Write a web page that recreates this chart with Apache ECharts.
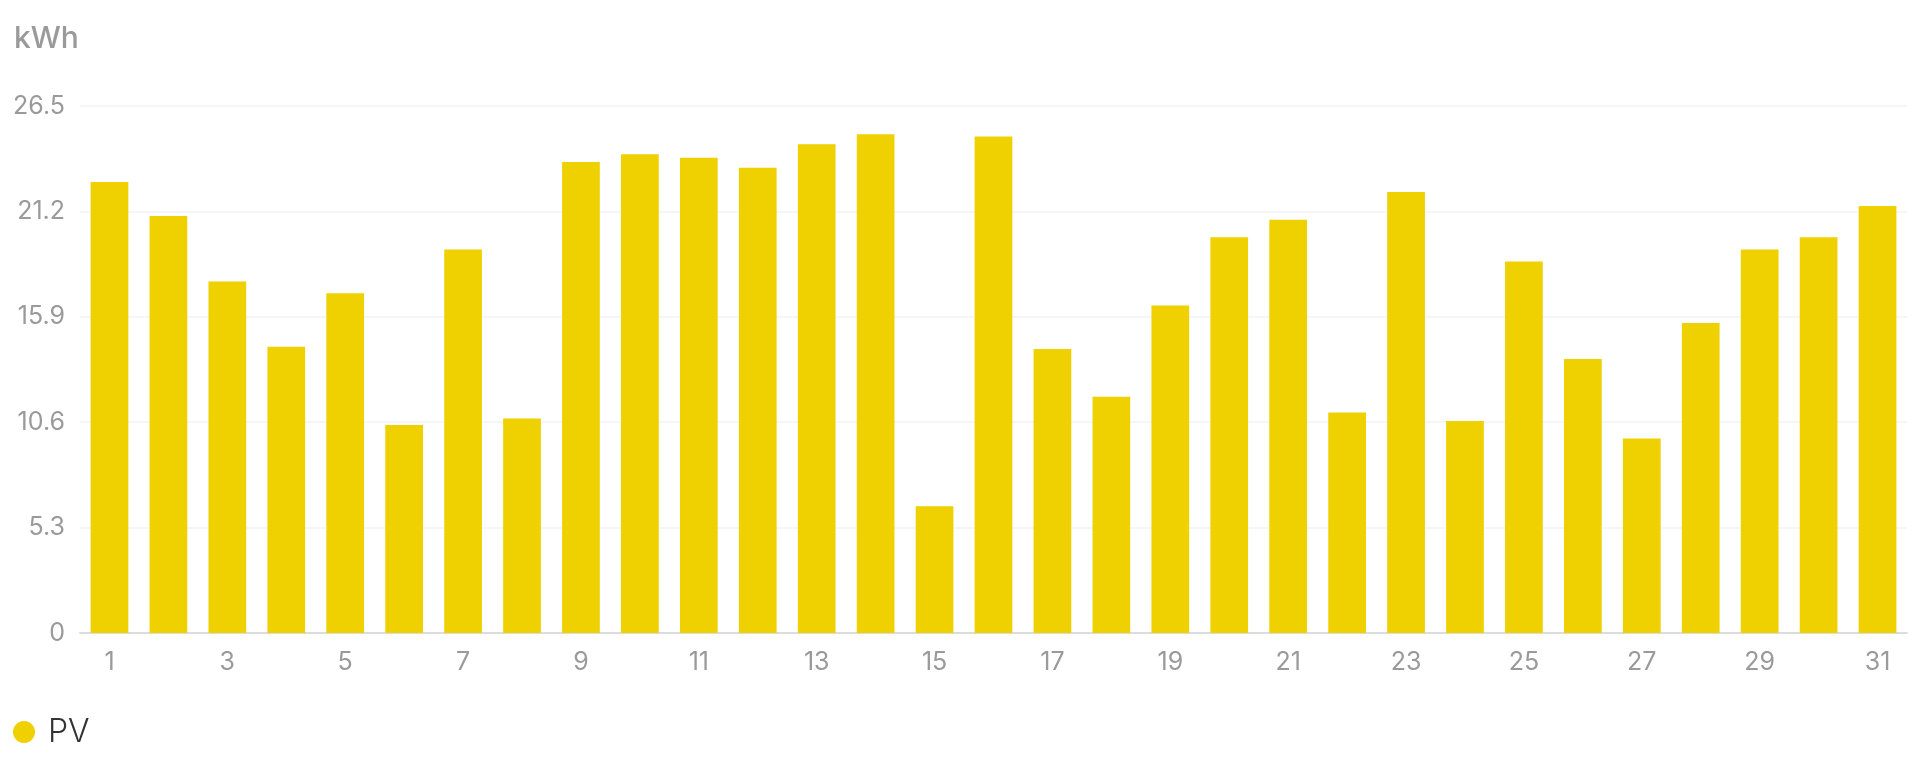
<!DOCTYPE html>
<html>
<head>
<meta charset="utf-8">
<script src="https://cdn.jsdelivr.net/npm/echarts@6/dist/echarts.min.js"></script>
<style>
html,body{margin:0;padding:0;background:#fff;}
#chart{width:1920px;height:777px;}
</style>
</head>
<body>
<div id="chart"></div>
<script>
const days = ['1','2','3','4','5','6','7','8','9','10','11','12','13','14','15','16','17','18','19','20','21','22','23','24','25','26','27','28','29','30','31'];
const pvValues = [22.68,20.97,17.67,14.39,17.08,10.46,19.29,10.78,23.68,24.08,23.90,23.39,24.58,25.08,6.37,24.97,14.28,11.88,16.47,19.90,20.78,11.09,22.17,10.66,18.68,13.78,9.78,15.59,19.29,19.90,21.47];
const yTicks = [0,5.3,10.6,15.9,21.2,26.5];
const seriesName = 'PV';
const unitName = 'kWh';

const chart = echarts.init(document.getElementById('chart'));
chart.setOption({
  animation:false,
  backgroundColor:'#fff',
  textStyle:{fontFamily:'Inter, Roboto, sans-serif'},
  title:{text:unitName,left:9,top:19,textStyle:{fontSize:30,fontWeight:500,color:'#9a9a9a',fontFamily:'Inter, Roboto, sans-serif'}},
  legend:{data:[seriesName],left:8,top:711,icon:'circle',itemWidth:22,itemHeight:22,
    textStyle:{fontSize:32,fontWeight:300,color:'#333',padding:[0,0,0,8],fontFamily:'Inter, Roboto, sans-serif'}},
  grid:{left:80,right:13,top:106,bottom:144,containLabel:false},
  xAxis:{type:'category',data:days,
    axisLine:{lineStyle:{color:'#dcdcdc',width:2}},
    axisTick:{show:false},
    axisLabel:{interval:1,color:'#9a9a9a',fontSize:25,margin:17}},
  yAxis:{type:'value',min:yTicks[0],max:yTicks[yTicks.length-1],interval:yTicks[1],
    axisLine:{show:false},axisTick:{show:false},
    splitLine:{lineStyle:{color:'#f3f3f3',width:1.5}},
    axisLabel:{color:'#9a9a9a',fontSize:25,margin:15,formatter:v=>String(v)}},
  series:[{name:seriesName,type:'bar',data:pvValues,barWidth:'64%',itemStyle:{color:'#EFD000'}}]
});
</script>
</body>
</html>
